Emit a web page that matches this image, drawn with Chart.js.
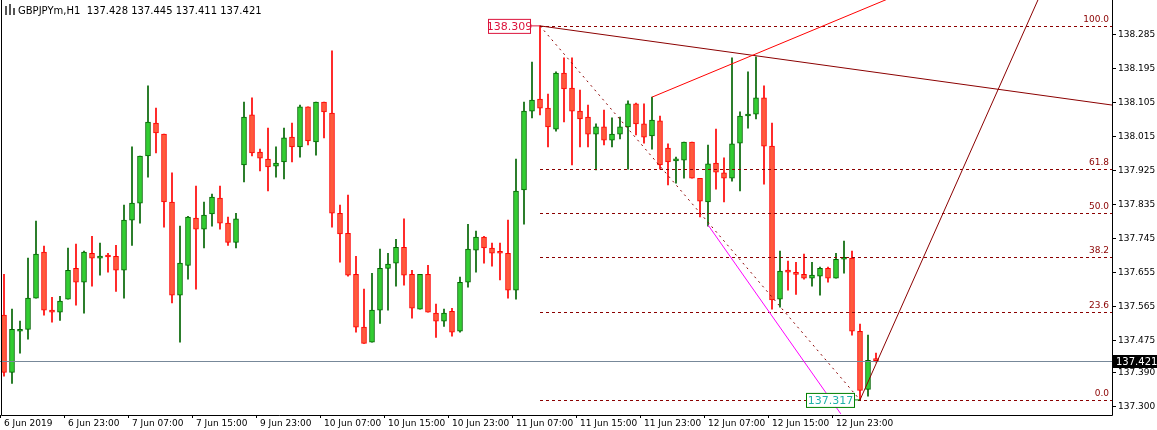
<!DOCTYPE html>
<html><head><meta charset="utf-8">
<script src="https://cdn.jsdelivr.net/npm/chart.js@4.4.1/dist/chart.umd.min.js"></script>
<style>html,body{margin:0;padding:0;background:#fff;}#wrap{width:1157px;height:430px;position:relative;}</style>
</head><body><div id="wrap"><canvas id="c" width="1157" height="430"></canvas></div>
<script>
const opens=[137.542,137.390,137.499,137.504,137.587,137.709,137.555,137.550,137.584,137.666,
137.629,137.706,137.693,137.698,137.698,137.661,137.794,137.839,137.964,138.051,
138.022,137.842,137.595,137.674,137.799,137.770,137.810,137.852,137.786,137.735,
137.940,138.073,137.974,137.956,137.937,137.948,138.014,137.988,138.094,138.001,
138.107,138.078,137.812,137.759,137.650,137.510,137.470,137.555,137.666,137.680,
137.722,137.650,137.558,137.650,137.547,137.526,137.552,137.499,137.629,137.714,
137.749,137.720,137.709,137.706,137.608,137.874,138.083,138.115,138.091,138.035,
138.184,138.144,138.083,138.067,138.022,138.041,138.006,138.022,138.041,138.102,
138.049,138.017,138.057,137.985,137.951,137.953,138.001,137.905,137.842,137.945,
137.919,137.905,137.998,138.070,138.075,138.118,137.990,137.584,137.659,137.653,
137.650,137.640,137.645,137.666,137.640,137.690,137.693,137.499,137.345,137.425];
const highs=[137.650,137.558,137.526,137.693,137.791,137.725,137.589,137.592,137.720,137.730,
137.712,137.751,137.733,137.706,137.727,137.834,137.988,137.964,138.150,138.091,
138.022,137.919,137.778,137.804,137.884,137.842,137.863,137.884,137.802,137.812,
138.107,138.118,137.982,138.038,137.988,138.038,138.051,138.099,138.094,138.107,
138.107,138.243,137.834,137.860,137.698,137.611,137.653,137.717,137.706,137.743,
137.797,137.661,137.650,137.674,137.571,137.558,137.560,137.643,137.783,137.765,
137.751,137.733,137.733,137.794,137.956,138.107,138.213,138.309,138.128,138.187,
138.224,138.224,138.139,138.099,138.049,138.086,138.065,138.067,138.110,138.104,
138.102,138.120,138.070,137.996,137.961,138.001,138.001,137.905,137.993,138.035,
137.959,138.224,138.081,138.187,138.227,138.150,138.051,137.712,137.685,137.682,
137.704,137.682,137.669,137.669,137.706,137.738,137.712,137.518,137.489,137.441];
const lows=[137.380,137.361,137.441,137.478,137.587,137.542,137.523,137.528,137.584,137.568,
137.547,137.619,137.648,137.656,137.605,137.587,137.727,137.786,137.908,137.972,
137.775,137.574,137.470,137.637,137.611,137.720,137.778,137.770,137.727,137.720,
137.895,137.964,137.924,137.871,137.908,137.903,137.948,137.961,137.993,137.966,
138.012,137.775,137.682,137.645,137.497,137.467,137.470,137.520,137.555,137.619,
137.621,137.534,137.558,137.550,137.483,137.512,137.486,137.497,137.616,137.656,
137.680,137.672,137.635,137.587,137.584,137.783,138.065,138.073,137.988,138.030,
138.054,137.940,137.988,137.988,137.927,137.993,137.988,138.009,137.929,138.020,
137.998,137.982,137.929,137.887,137.892,137.905,137.905,137.802,137.778,137.876,
137.842,137.897,137.871,138.038,138.062,137.889,137.558,137.563,137.608,137.597,
137.637,137.619,137.595,137.629,137.640,137.653,137.489,137.317,137.327,137.417];
const closes=[137.390,137.504,137.504,137.587,137.704,137.555,137.550,137.579,137.661,137.629,
137.709,137.693,137.698,137.696,137.661,137.794,137.839,137.964,138.054,138.025,
137.842,137.595,137.680,137.802,137.770,137.807,137.855,137.786,137.735,137.797,
138.067,137.972,137.958,137.935,137.945,138.012,137.988,138.094,138.004,138.107,
138.081,137.812,137.757,137.648,137.510,137.467,137.555,137.666,137.677,137.722,
137.648,137.560,137.650,137.550,137.526,137.547,137.497,137.629,137.717,137.749,
137.720,137.706,137.706,137.608,137.871,138.083,138.112,138.091,138.041,138.184,
138.142,138.083,138.062,138.022,138.041,138.006,138.022,138.041,138.102,138.049,
138.014,138.059,137.940,137.948,137.956,138.001,137.905,137.844,137.943,137.921,
137.905,137.996,138.070,138.075,138.118,137.990,137.582,137.659,137.656,137.650,
137.640,137.648,137.666,137.640,137.690,137.693,137.499,137.342,137.422,137.421];
const timeLabels=["6 Jun 2019","6 Jun 23:00","7 Jun 07:00","7 Jun 15:00","9 Jun 23:00","10 Jun 07:00","10 Jun 15:00","10 Jun 23:00","11 Jun 07:00","11 Jun 15:00","11 Jun 23:00","12 Jun 07:00","12 Jun 15:00","12 Jun 23:00"];
const priceTicks=[137.300,137.390,137.475,137.565,137.655,137.745,137.835,137.925,138.015,138.105,138.195,138.285];
const fibHigh=138.309, fibLow=137.317, fibStart=67, fibEnd=107;
const fibLevels=[0,23.6,38.2,50,61.8,100];
const lastPrice=137.421;
const totalSlots=139;

const labels=[];for(let i=0;i<totalSlots;i++)labels.push(i);
const n=opens.length;
const bodies=[],wicks=[],bodyFill=[],bodyBorder=[],wickCol=[];
for(let i=0;i<n;i++){
  bodies.push([opens[i],closes[i]]);wicks.push([lows[i],highs[i]]);
  const up=closes[i]>=opens[i];
  bodyFill.push(up?'#32CD32':'#FF5A3C');bodyBorder.push(up?'#006400':'#FF0000');wickCol.push(up?'#006400':'#FF0000');
}
const FONT='"DejaVu Sans", sans-serif';
const overlay={id:'overlay',
 afterDatasetsDraw(ch){
  const c=ch.ctx,x=ch.scales.x,y=ch.scales.y,a=ch.chartArea;
  const X=v=>x.getPixelForValue(v),Y=v=>y.getPixelForValue(v);
  c.save();
  c.beginPath();c.rect(a.left,0,a.right-a.left,a.bottom);c.clip();
  c.strokeStyle='#778899';c.lineWidth=1;c.beginPath();c.moveTo(a.left,Math.round(Y(lastPrice))+0.5);c.lineTo(a.right,Math.round(Y(lastPrice))+0.5);c.stroke();
  c.strokeStyle='#8B0000';c.setLineDash([3,3]);
  fibLevels.forEach(l=>{const p=fibLow+(fibHigh-fibLow)*l/100;const yy=Math.round(Y(p))+0.5;c.beginPath();c.moveTo(X(fibStart),yy);c.lineTo(a.right,yy);c.stroke();});
  c.setLineDash([2,4]);c.beginPath();c.moveTo(X(fibStart),Y(fibHigh));c.lineTo(X(fibEnd),Y(fibLow));c.stroke();
  c.setLineDash([]);
  const seg=(p,col)=>{c.strokeStyle=col;c.beginPath();c.moveTo(X(p[0]),Y(p[1]));c.lineTo(X(p[2]),Y(p[3]));c.stroke();};
  seg([67,138.309,138.5,138.099],'#8B0000');
  seg([81,138.120,111,138.385],'#FF0000');
  seg([88,137.781,104.6,137.28],'#FF00FF');
  seg([107,137.317,129.5,138.39],'#8B0000');
  c.font='9px '+FONT;c.textAlign='right';c.fillStyle='#8B0000';
  fibLevels.forEach(l=>{const p=fibLow+(fibHigh-fibLow)*l/100;c.fillText(l.toFixed(1),a.right-3,Y(p)-4);});
  c.restore();
  c.save();c.font='11px '+FONT;c.textBaseline='middle';
  let yy=Y(fibHigh);c.fillStyle='#fff';c.fillRect(488,yy-7,42,14);c.strokeStyle='#DC143C';c.strokeRect(488.5,yy-6.5,42,14);
  c.fillStyle='#DC143C';c.textAlign='center';c.fillText(fibHigh.toFixed(3),509.5,yy+1);
  c.strokeStyle='#DC143C';c.beginPath();c.moveTo(531,yy);c.lineTo(X(fibStart),yy);c.stroke();
  yy=Y(fibLow);c.fillStyle='#fff';c.fillRect(806,yy-7,48,14);c.strokeStyle='#008000';c.strokeRect(806.5,yy-6.5,48,14);
  c.fillStyle='#20B2AA';c.fillText(fibLow.toFixed(3),830.5,yy+1);
  c.strokeStyle='#008000';c.beginPath();c.moveTo(855,yy);c.lineTo(X(fibEnd),yy);c.stroke();
  // frame: left, bottom, right
  c.strokeStyle='#000';c.lineWidth=1;c.beginPath();
  const L=Math.round(a.left)+1.5,B=Math.round(a.bottom)+0.5,R=Math.round(a.right)+0.5;
  c.moveTo(L,0);c.lineTo(L,B);c.lineTo(R,B);c.lineTo(R,0);c.stroke();
  yy=Math.round(Y(lastPrice));c.fillStyle='#000';c.fillRect(a.right+1,yy-6,45,13);
  c.fillStyle='#fff';c.font='10px '+FONT;c.textAlign='left';c.fillText(lastPrice.toFixed(3),a.right+4,yy+1);
  c.fillStyle='#000';c.font='10px '+FONT;c.fillText('GBPJPYm,H1  137.428 137.445 137.411 137.421',18,11);
  c.fillStyle='#555';c.fillRect(5,6,2,9);c.fillRect(9,4,2,11);c.fillRect(13,8,2,7);
  c.restore();
 }};
new Chart(document.getElementById('c'),{
 type:'bar',
 data:{labels,datasets:[
  {data:bodies,backgroundColor:bodyFill,borderColor:bodyBorder,borderWidth:1,borderSkipped:false,barThickness:5,minBarLength:2,grouped:false},
  {data:wicks,backgroundColor:wickCol,borderWidth:0,barThickness:1,grouped:false}
 ]},
 options:{responsive:false,animation:false,events:[],
  layout:{padding:0},
  plugins:{legend:{display:false},tooltip:{enabled:false}},
  scales:{
   x:{type:'category',offset:true,
    afterFit:s=>{s.height=15;},
    grid:{display:true,drawOnChartArea:false,tickLength:3,color:'transparent',tickColor:ctx=>(ctx.index%8===0&&ctx.index<=104?'#000':'transparent')},
    border:{display:false},
    ticks:{autoSkip:false,maxRotation:0,align:'start',padding:0,color:'#000',font:{size:9,family:FONT},
     callback:(v,i)=>(i%8===0&&timeLabels[i/8])?timeLabels[i/8]:''}},
   y:{position:'right',min:137.277,max:138.358,
    afterFit:s=>{s.width=45;},
    afterBuildTicks:s=>{s.ticks=priceTicks.map(v=>({value:v}));},
    grid:{drawOnChartArea:false,tickLength:4,color:'#000'},
    border:{display:false},
    ticks:{padding:2,color:'#000',font:{size:9,family:FONT},callback:v=>Number(v).toFixed(3)}}
  }},
 plugins:[overlay]
});
</script></body></html>
